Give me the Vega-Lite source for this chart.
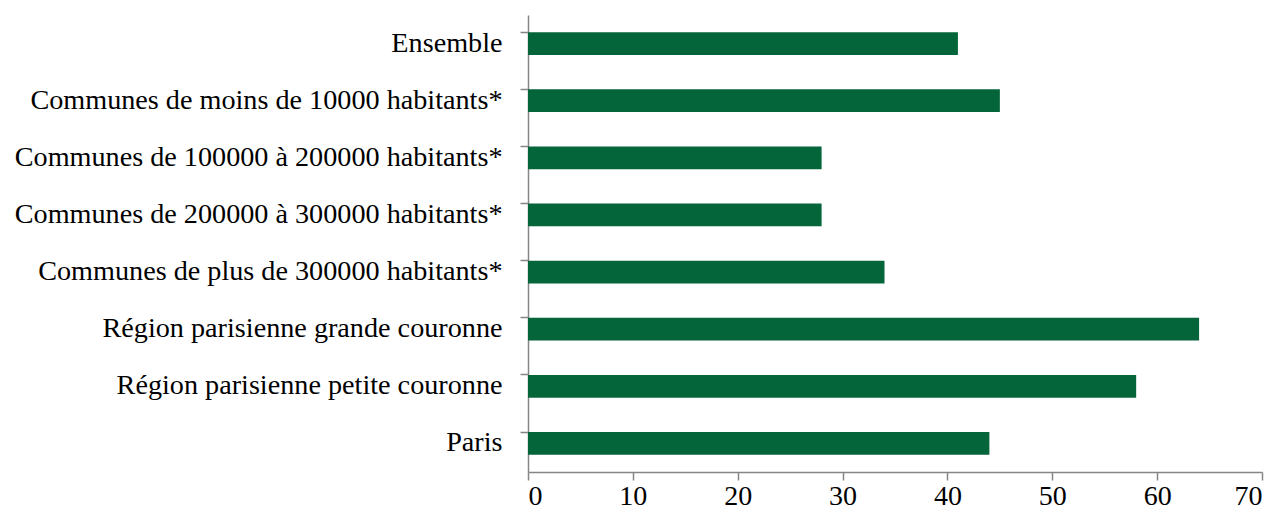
{
  "$schema": "https://vega.github.io/schema/vega-lite/v6.json",
  "autosize": "none",
  "padding": {"left": 528, "top": 15, "right": 16, "bottom": 44},
  "width": 734,
  "height": 457,
  "background": "white",
  "data": {"values": [
    {"cat": "Ensemble", "v": 41},
    {"cat": "Communes de moins de 10000 habitants*", "v": 45},
    {"cat": "Communes de 100000 à 200000 habitants*", "v": 28},
    {"cat": "Communes de 200000 à 300000 habitants*", "v": 28},
    {"cat": "Communes de plus de 300000 habitants*", "v": 34},
    {"cat": "Région parisienne grande couronne", "v": 64},
    {"cat": "Région parisienne petite couronne", "v": 58},
    {"cat": "Paris", "v": 44}
  ]},
  "mark": {"type": "bar", "color": "#05653A"},
  "encoding": {
    "y": {"field": "cat", "type": "nominal", "sort": null, "title": null,
      "scale": {"paddingInner": 0.6, "paddingOuter": 0.3},
      "axis": {"bandPosition": 0, "tickSize": 8, "tickColor": "#868686", "domainColor": "#868686", "domainWidth": 1.5, "tickWidth": 1.5, "labelPadding": 18, "labelFont": "Liberation Serif", "labelFontSize": 28.2, "labelColor": "#000000", "labelLimit": 600, "grid": false}},
    "x": {"field": "v", "type": "quantitative", "title": null,
      "scale": {"domain": [0, 70], "nice": false},
      "axis": {"values": [0,10,20,30,40,50,60,70], "tickSize": 8, "tickColor": "#868686", "domainColor": "#868686", "domainWidth": 1.5, "tickWidth": 1.5, "labelPadding": 2, "labelFont": "Liberation Serif", "labelFontSize": 28, "labelColor": "#000000", "grid": false}}
  },
  "config": {"view": {"stroke": null}}
}
